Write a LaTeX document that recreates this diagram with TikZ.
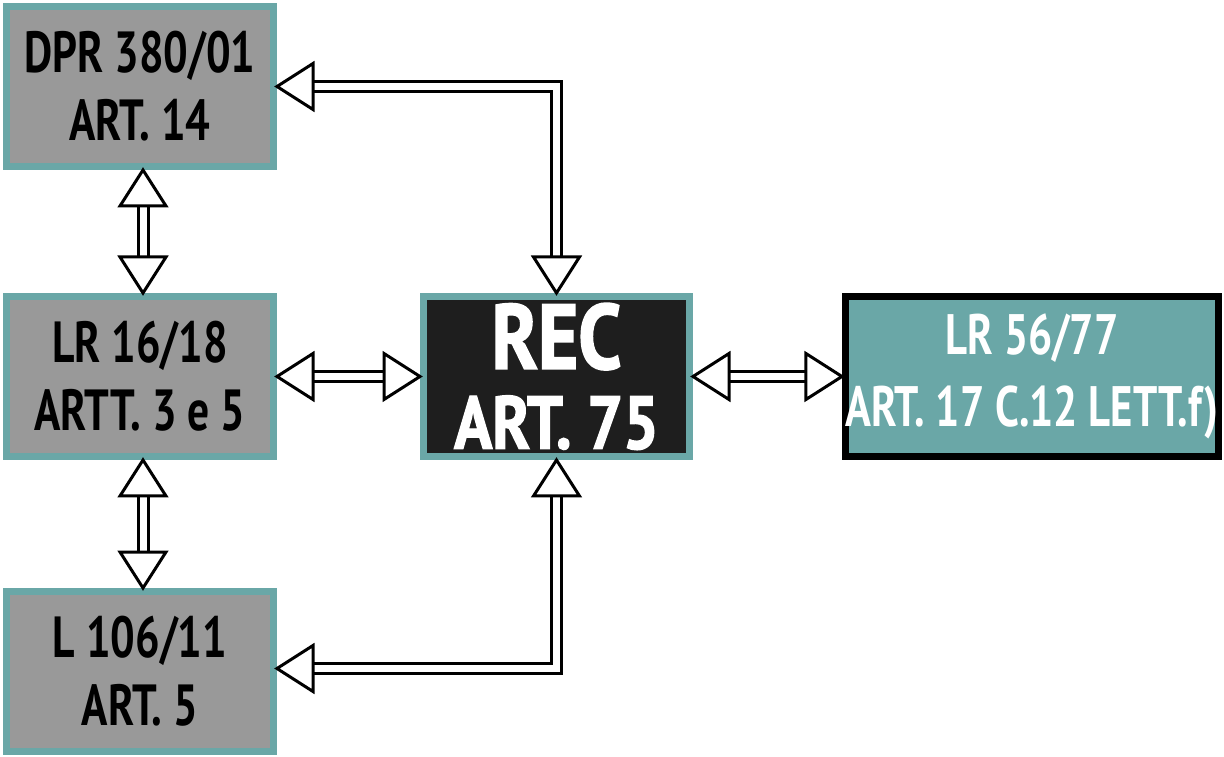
\documentclass[tikz,border=0pt]{standalone}
\usepackage{fontspec}
\setmainfont{PT Sans}[FakeStretch=0.75]
\newfontfamily\heavyfont{PT Sans}[FakeStretch=0.84, BoldFeatures={FakeBold=1.8}]
\definecolor{tealb}{RGB}{106,167,167}
\definecolor{grayf}{RGB}{153,153,153}
\definecolor{recf}{RGB}{30,30,30}
\tikzset{
  box/.style={draw=tealb, line width=7pt, fill=grayf, minimum width=267pt, minimum height=160pt,
    inner sep=0pt, align=center, font=\fontsize{58}{68}\selectfont\bfseries, text=black},
  recbox/.style={box, fill=recf, minimum width=266pt, text=white,
    font=\heavyfont\bfseries\fontsize{75}{80}\selectfont},
  lrbox/.style={box, draw=black, fill=tealb, minimum width=373pt, text=white,
    font=\fontsize{57}{72}\selectfont\bfseries},
  shaft/.style={line width=3pt, double=white, double distance=7pt, line join=miter},
  ahead/.pic={\draw[line width=3pt, fill=white, line join=miter] (0,0) -- (-36,23) -- (-36,-23) -- cycle;}
}
\begin{document}
\begin{tikzpicture}[x=1pt,y=1pt]
\useasboundingbox (0,0) rectangle (1224,756);
\node[box] (dpr) at (140,669.5) {DPR 380/01\\ART. 14};
\node[box] (lr16) at (140,379.5) {LR 16/18\\ARTT. 3 e 5};
\node[box] (l106) at (140,84.5) {L 106/11\\ART. 5};
\node[recbox] (rec) at (556.5,379.5) {{\fontsize{92}{80}\selectfont REC}\\ART. 75};
\node[lrbox] (lr56) at (1032,379.5) {LR 56/77\\ART. 17 C.12 LETT.f)};
% DPR - REC
\draw[shaft] ([xshift=34pt]dpr.east) -- (rec.north |- dpr.east) -- ([yshift=34pt]rec.north);
\pic[rotate=180] at (dpr.east) {ahead};
\pic[rotate=-90] at (rec.north) {ahead};
% LR16 - REC
\draw[shaft] ([xshift=34pt]lr16.east) -- ([xshift=-34pt]rec.west);
\pic[rotate=180] at (lr16.east) {ahead};
\pic at (rec.west) {ahead};
% REC - LR56
\draw[shaft] ([xshift=34pt]rec.east) -- ([xshift=-34pt]lr56.west);
\pic[rotate=180] at (rec.east) {ahead};
\pic at (lr56.west) {ahead};
% DPR - LR16
\draw[shaft] ([xshift=3pt,yshift=-34pt]dpr.south) -- ([xshift=3pt,yshift=34pt]lr16.north);
\pic[rotate=90] at ([xshift=3pt]dpr.south) {ahead};
\pic[rotate=-90] at ([xshift=3pt]lr16.north) {ahead};
% LR16 - L106
\draw[shaft] ([xshift=3pt,yshift=-34pt]lr16.south) -- ([xshift=3pt,yshift=34pt]l106.north);
\pic[rotate=90] at ([xshift=3pt]lr16.south) {ahead};
\pic[rotate=-90] at ([xshift=3pt]l106.north) {ahead};
% REC - L106
\draw[shaft] ([yshift=-34pt]rec.south) -- ([yshift=3pt]rec.south |- l106.east) -- ([xshift=34pt,yshift=3pt]l106.east);
\pic[rotate=90] at (rec.south) {ahead};
\pic[rotate=180] at ([yshift=3pt]l106.east) {ahead};
\end{tikzpicture}
\end{document}
